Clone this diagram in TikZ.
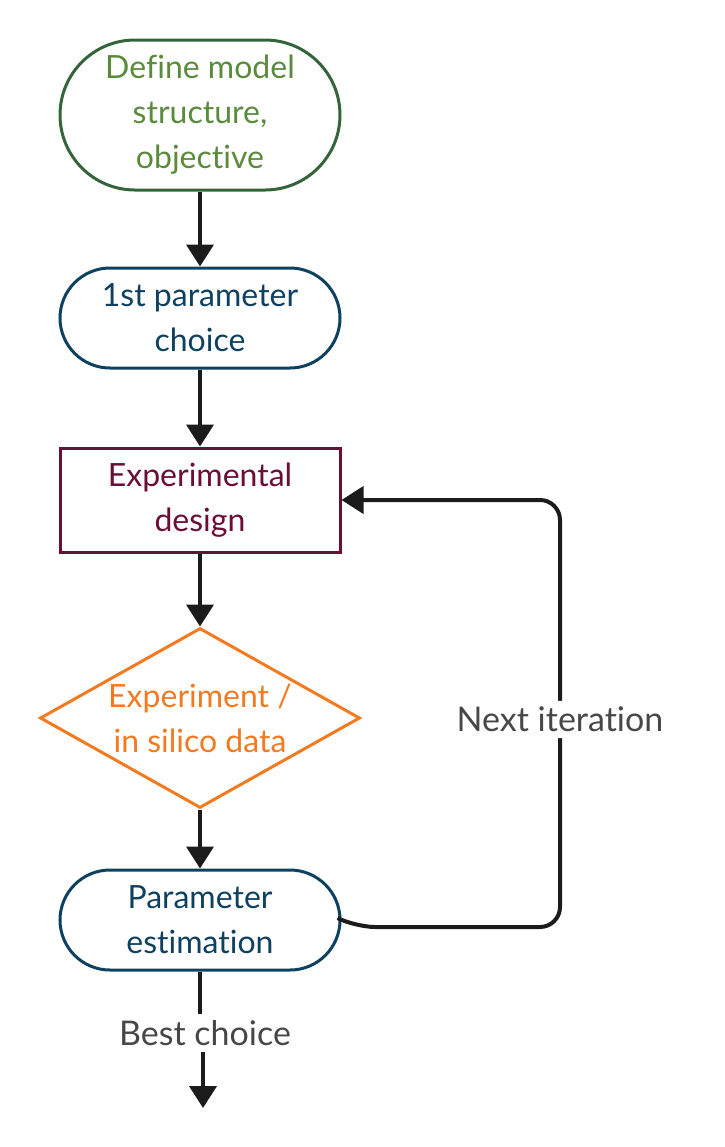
\documentclass[tikz,border=0pt]{standalone}
\usepackage{fontspec}
\setmainfont{Lato}[Ligatures=NoCommon]
\usetikzlibrary{shapes.geometric,arrows.meta}

\definecolor{defgreen}{HTML}{36643A}
\definecolor{deftext}{HTML}{5A8A3C}
\definecolor{parblue}{HTML}{0E4160}
\definecolor{expred}{HTML}{6B0D35}
\definecolor{dataorange}{HTML}{F37A21}
\definecolor{arrowblack}{HTML}{1B1B1B}
\definecolor{labelgrey}{HTML}{474747}

\begin{document}
\begin{tikzpicture}[x=0.5pt,y=-0.5pt,
	font=\fontsize{16}{22.5}\selectfont,
	box/.style={draw, line width=1.5pt, align=center, inner sep=0pt,
		yshift=-1pt},
	flow/.style={draw=arrowblack, line width=2pt,
		-{Triangle[width=13.5pt,length=11pt]}},
	plain/.style={draw=arrowblack, line width=2pt},
	lbl/.style={text=labelgrey, fill=white, inner sep=3pt,
		font=\fontsize{17}{20}\selectfont}]

	\useasboundingbox (0,0) rectangle (724,1147);

	\node[box, draw=defgreen, text=deftext, minimum width=140pt,
	minimum height=75pt, rounded corners=37.5pt] at (200,113) (def)
	{Define model\\structure,\\objective};

	\node[box, draw=parblue, text=parblue, minimum width=140pt,
	minimum height=50pt, rounded corners=25pt] at (200,316) (first)
	{1st parameter\\choice};

	\node[box, draw=expred, text=expred, minimum width=140pt,
	minimum height=52pt] at (200,498) (exp)
	{Experimental\\design};

	\node[box, draw=dataorange, text=dataorange, diamond, aspect=1.78,
	minimum width=160pt, minimum height=90pt] at (200,716) (data)
	{Experiment /\\in silico data};

	\node[box, draw=parblue, text=parblue, minimum width=140pt,
	minimum height=50pt, rounded corners=25pt] at (200,918) (est)
	{Parameter\\estimation};

	\node[lbl] at (205,1033) (best) {Best choice};
	\coordinate (out) at (203,1108);

	\draw[flow] (def) -- (first);
	\draw[flow] (first) -- (exp);
	\draw[flow] (exp) -- (data);
	\draw[flow] (data) -- (est);

	% loop back
	\draw[flow, rounded corners=10pt] (est.east) -- ++(14,7) --
	(560,927) |- node[lbl, pos=0.243] (next) {Next iteration} (exp.east);

	\draw[plain] (est.south) -- (est.south |- best.north);
	\draw[flow] (best.south -| out) -- (out);

\end{tikzpicture}
\end{document}
